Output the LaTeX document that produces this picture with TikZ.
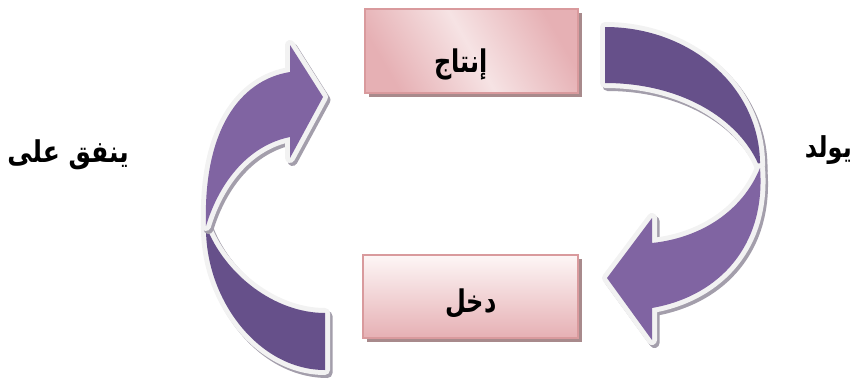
\documentclass[tikz,border=0pt]{standalone}
\usepackage{fontspec}
\newfontfamily\arabicfont[Script=Arabic]{DejaVu Sans}
\TeXXeTstate=1
\usetikzlibrary{shadows}
\definecolor{purpD}{HTML}{66508A}
\definecolor{purpL}{HTML}{8064A2}
\definecolor{outl}{HTML}{F2F2F2}
\definecolor{ashadow}{HTML}{A39EAB}
\definecolor{pinkB}{HTML}{D99A9D}
\definecolor{pinkD}{HTML}{E6B0B4}
\definecolor{pinkL}{HTML}{F6E3E4}
\definecolor{pinkW}{HTML}{FDF6F6}
\definecolor{bshadow}{HTML}{A88A8C}
\newcommand\layershape[2]{%
  \filldraw[ashadow, line width=10, line join=round, shift={(2.5,3)}] #2;
  \draw[outl, line width=10, line join=round] #2;
  \fill[#1] #2;
}
\tikzset{
  box/.style={draw=pinkB, line width=2.2, minimum width=213, minimum height=84,
    inner sep=0, drop shadow={shadow xshift=3.5pt, shadow yshift=-3.5pt, fill=bshadow, opacity=1}},
  lbl/.style={inner sep=0},
  big/.style={font=\arabicfont\bfseries\fontsize{24}{28}\selectfont},
  side/.style={font=\arabicfont\bfseries\fontsize{25}{30}\selectfont}
}
\begin{document}
\begin{tikzpicture}[x=1pt,y=-1pt]
\useasboundingbox (0,0) rectangle (854,391);
% right arrow
\layershape{purpD}{(605,27) .. controls (692,27) and (762,89) .. (760,168) .. controls (740,118) and (680,83) .. (605,83) -- cycle}
\layershape{purpL}{(760,168) .. controls (766,245) and (720,296) .. (652,308) -- (652,340) -- (607,278) -- (652,218) -- (652,243) .. controls (700,238) and (742,212) .. (760,168) -- cycle}
% left arrow
\layershape{purpD}{(325,370) .. controls (259,370) and (205,300) .. (206,226) .. controls (225,275) and (275,313) .. (325,313) -- cycle}
\layershape{purpL}{(206,226) .. controls (203,130) and (240,80) .. (290,72) -- (290,45) -- (323,97) -- (290,158) -- (290,137) .. controls (250,145) and (220,180) .. (206,226) -- cycle}
% boxes
\node[box, top color=pinkD, bottom color=pinkD, middle color=pinkL, shading angle=-60] (prod) at (471.5,51) {};
\node[lbl, big] (prodt) at (461,64) {\scalebox{1}[1.3]{\beginR إنتاج\endR}};
\node[box, minimum width=215, minimum height=83, top color=pinkW, bottom color=pinkD] (inc) at (470.5,296.5) {};
\node[lbl, big] (inct) at (471,303) {\scalebox{1}[1.3]{\beginR دخل\endR}};
% side labels
\node[lbl, side] (spend) at (68,155) {\scalebox{1}[1.2]{\beginR ينفق على\endR}};
\node[lbl, big, anchor=east] (gen) at (852,150) {\scalebox{1}[1.2]{\beginR يولد\endR}};
\end{tikzpicture}
\end{document}
